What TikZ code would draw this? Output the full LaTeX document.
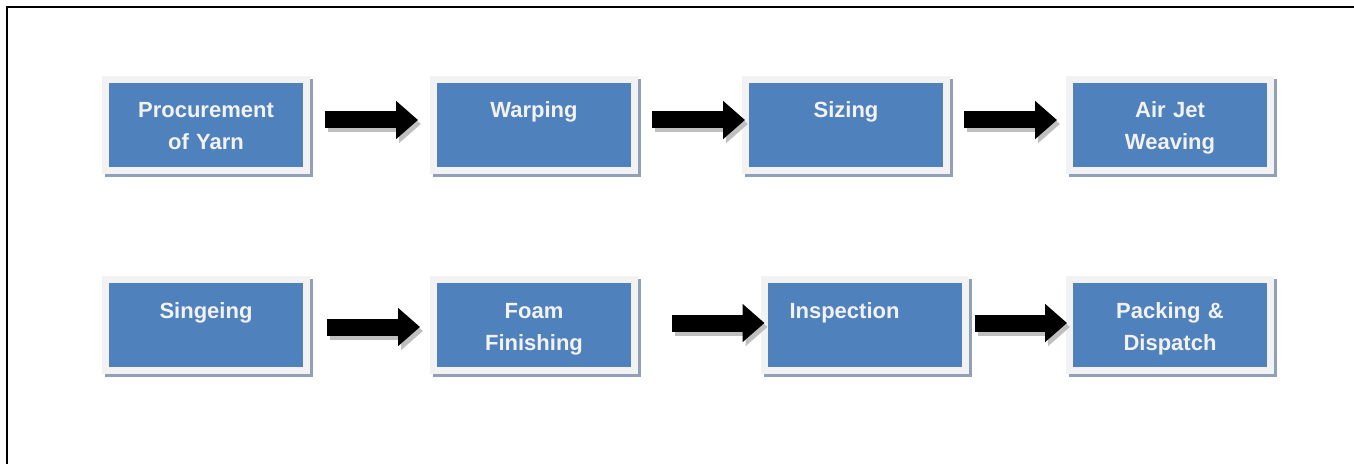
\documentclass[tikz,border=0pt]{standalone}
\usepackage{fontspec}
\setmainfont{Liberation Sans}
\usetikzlibrary{arrows.meta, shadows}
\definecolor{stepblue}{HTML}{4F81BD}
\definecolor{stepframe}{HTML}{F2F2F2}
\definecolor{stepshadow}{HTML}{8FA0B8}
\definecolor{arrowshade}{HTML}{BFBFBF}

\begin{document}
\begin{tikzpicture}[
    x=1pt, y=1pt,
    stepbox/.style={rectangle, fill=stepblue, draw=stepframe, line width=7pt, minimum width=201pt, minimum height=91pt, inner sep=0pt, text width=190pt, align=center, text height=20pt, text depth=34pt, text=stepframe, font=\fontsize{22}{32}\selectfont\bfseries,
        drop shadow={shadow xshift=3pt, shadow yshift=-3pt, opacity=1, fill=stepshadow, draw=stepshadow, line width=7pt}},
    arrow/.style={line width=17pt, draw=black, -{Triangle[length=22pt, width=37pt]}},
    arrowshadow/.style={arrow, draw=arrowshade, transform canvas={shift={(3pt,-4pt)}}}
]
\useasboundingbox (0,0) rectangle (1354,464);
\draw[line width=2.3pt] (7,0) -- (7,457) -- (1354,457);

% first row
\node[stepbox] (proc)  at (206,339)  {Procurement\\of Yarn};
\node[stepbox] (warp)  at (534,339)  {Warping};
\node[stepbox] (size)  at (846,339)  {Sizing};
\node[stepbox] (weave) at (1170,339) {Air Jet\\Weaving};

% second row
\node[stepbox] (singe)   at (206,139)   {Singeing};
\node[stepbox] (foam)    at (534,139)   {Foam\\Finishing};
\node[stepbox] (inspect) at (864.5,139) {Inspection\hspace{40pt}\mbox{}};
\node[stepbox] (pack)    at (1170,139)  {Packing \&\\Dispatch};

% block arrows: from/to/gap at start/gap at tip/vertical shift
\foreach \a/\b/\s/\e/\dy in {proc/warp/15/12/5, warp/size/14/-3/5, size/weave/14/9/5,
                              singe/foam/17/10/-2, foam/inspect/34/-4/2, inspect/pack/6/-1/2}{
    \draw[arrowshadow, shorten <=\s pt, shorten >=\e pt] ([yshift=\dy pt]\a.east) -- ([yshift=\dy pt]\b.west);
    \draw[arrow, shorten <=\s pt, shorten >=\e pt] ([yshift=\dy pt]\a.east) -- ([yshift=\dy pt]\b.west);
}
\end{tikzpicture}
\end{document}
